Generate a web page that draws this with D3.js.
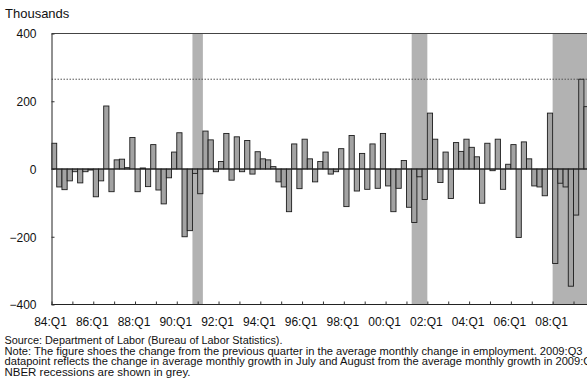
<!DOCTYPE html>
<html>
<head>
<meta charset="utf-8">
<script src="https://cdn.jsdelivr.net/npm/d3@7"></script>
<style>
  body { margin: 0; background: #fff; }
  svg { display: block; }
  text { font-family: "Liberation Sans", Arial, Helvetica, sans-serif; fill: #111; }
</style>
</head>
<body>
<svg id="chart" width="587" height="388"></svg>
<script>
// Quarterly categories 84:Q1 .. 09:Q3
const firstYear = 1984, lastYear = 2009, lastQuarter = 3;
const quarters = [];
for (let yr = firstYear; yr <= lastYear; yr++) {
  for (let q = 1; q <= 4; q++) {
    if (yr === lastYear && q > lastQuarter) break;
    quarters.push(String(yr % 100).padStart(2, "0") + ":Q" + q);
  }
}

// Change from previous quarter in average monthly payroll change (thousands)
const changes = [
   76, -53, -61, -35,   -8, -41,  -8,  -3,  -82, -35, 186, -67,   27,  29,   4,  93,
  -67,   3, -52,  72,  -62,-103, -26,  50,  107,-200,-182, -13,  -73, 112,  86,  -8,
   22, 105, -33,  95,   -8,  84, -15,  51,   30,  27,   7, -38,  -53,-126,  74, -58,
   88,  30, -38,  22,   50, -15,  -8,  60, -111,  99, -65,  46,  -60,  74, -57, 105,
  -50,-126, -57,  25, -113,-158, -23, -90,  165,  88, -40,  50,  -87,  78,  52,  88,
   64,  36,-101,  76,   -5,  88, -60,  14,   72,-202,  80,  30,  -50, -53, -79, 165,
 -279, -42, -53,-346, -136, 265, 184
];

// NBER recession periods (first and last quarter shaded)
const recessions = [["90:Q4", "91:Q1"], ["01:Q2", "01:Q4"], ["08:Q1", "09:Q3"]];

const yTicks = [400, 200, 0, -200, -400];
const xTickLabels = ["84:Q1", "86:Q1", "88:Q1", "90:Q1", "92:Q1", "94:Q1", "96:Q1",
                     "98:Q1", "00:Q1", "02:Q1", "04:Q1", "06:Q1", "08:Q1"];
const refQuarter = "09:Q2";

const footnotes = [
  "Source: Department of Labor (Bureau of Labor Statistics).",
  "Note:  The figure shoes the change from the previous quarter in the average monthly change in employment.  2009:Q3",
  "datapoint reflects the change in average monthly growth in July and August from the average monthly growth in 2009:Q2",
  "NBER recessions are shown in grey."
];

// ---- layout ----
const W = 587, H = 388;
const plotLeft = 51.5, plotTop = 33.5, plotBottom = 304.5;
const step = 5.22;
const plotRight = plotLeft + quarters.length * step;

const svg = d3.select("#chart");

const x = d3.scaleBand().domain(quarters).range([plotLeft, plotRight]).padding(0);
const xIdx = d3.scaleLinear().domain([0, quarters.length]).range([plotLeft, plotRight]);
const y = d3.scaleLinear().domain([-400, 400]).range([plotBottom, plotTop]);

const plot = svg.append("g");
plot.append("clipPath").attr("id", "clip")
  .append("rect").attr("x", plotLeft).attr("y", plotTop)
  .attr("width", W - plotLeft).attr("height", plotBottom - plotTop);

const inner = plot.append("g").attr("clip-path", "url(#clip)");

// recession shading
inner.selectAll("rect.rec").data(recessions).join("rect")
  .attr("class", "rec")
  .attr("x", d => x(d[0]))
  .attr("width", d => x(d[1]) + x.bandwidth() - x(d[0]))
  .attr("y", plotTop)
  .attr("height", plotBottom - plotTop)
  .attr("fill", "#b2b2b2");

// reference dotted line at the 2009:Q2 level
const refValue = changes[quarters.indexOf(refQuarter)];
inner.append("line")
  .attr("x1", plotLeft).attr("x2", W)
  .attr("y1", y(refValue)).attr("y2", y(refValue))
  .attr("stroke", "#555").attr("stroke-width", 1)
  .attr("stroke-dasharray", "1.5,1.5");

// bars
inner.selectAll("rect.bar").data(quarters).join("rect")
  .attr("class", "bar")
  .attr("x", q => x(q))
  .attr("width", x.bandwidth())
  .attr("y", (q, i) => Math.min(y(changes[i]), y(0)))
  .attr("height", (q, i) => Math.abs(y(changes[i]) - y(0)))
  .attr("fill", "#a3a3a3")
  .attr("stroke", "#1c1c1c")
  .attr("stroke-width", 0.9);

// zero line
inner.append("line")
  .attr("x1", plotLeft).attr("x2", W)
  .attr("y1", y(0)).attr("y2", y(0))
  .attr("stroke", "#222").attr("stroke-width", 1.2);

// top frame
plot.append("line")
  .attr("x1", plotLeft).attr("x2", W)
  .attr("y1", plotTop).attr("y2", plotTop)
  .attr("stroke", "#444").attr("stroke-width", 1);

// bottom axis: yearly ticks, labels every two years
const yearIdx = quarters.map((q, i) => i).filter(i => quarters[i].endsWith(":Q1"));
const xAxis = d3.axisBottom(xIdx)
  .tickValues(yearIdx)
  .tickSizeInner(-3)
  .tickSizeOuter(0)
  .tickFormat(i => xTickLabels.includes(quarters[i]) ? quarters[i] : "");
const gx = svg.append("g").attr("transform", `translate(0,${plotBottom})`).call(xAxis);
gx.select(".domain").attr("d", `M${plotLeft},0H${W}`).attr("stroke", "#222");
gx.selectAll(".tick line").attr("stroke", "#333");
gx.selectAll(".tick text")
  .attr("y", 21.5).attr("dy", 0).attr("dx", -1.5)
  .attr("font-size", 12).style("fill", "#111");
gx.attr("font-family", null);

// left axis
const yAxis = d3.axisLeft(y).tickValues(yTicks).tickSizeInner(-3).tickSizeOuter(0);
const gy = svg.append("g").attr("transform", `translate(${plotLeft},0)`).call(yAxis);
gy.select(".domain").attr("stroke", "#222");
gy.selectAll(".tick line").attr("stroke", "#333");
gy.selectAll(".tick text")
  .attr("x", -15).attr("dy", "0.36em")
  .attr("font-size", 12).style("fill", "#111");
gy.attr("font-family", null);

// unit label
svg.append("text").attr("x", 5).attr("y", 17.5).attr("font-size", 13).text("Thousands");

// footnotes
const noteY = [343.5, 354.5, 365, 375.5];
const noteWidths = [278, 578, null, 186];
const notes = svg.selectAll("text.note").data(footnotes).join("text")
  .attr("class", "note")
  .attr("x", 4.5)
  .attr("y", (d, i) => noteY[i])
  .attr("font-size", 10)
  .text(d => d);
// horizontal compression taken from the fully visible note line
const natural = notes.nodes().map(n => n.getComputedTextLength());
const squeeze = noteWidths[1] / natural[1];
notes.each(function (d, i) {
  const w = noteWidths[i] != null ? noteWidths[i] : natural[i] * squeeze;
  d3.select(this).attr("textLength", w).attr("lengthAdjust", "spacingAndGlyphs");
});
</script>
</body>
</html>
